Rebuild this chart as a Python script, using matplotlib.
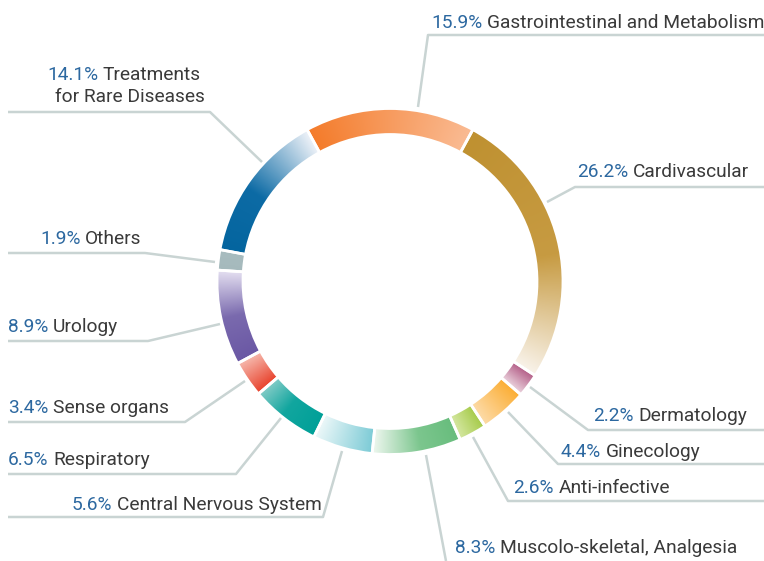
"""Therapeutic-area split of revenues as a gradient donut with leader labels."""
import numpy as np
import matplotlib
matplotlib.use("Agg")
import matplotlib.pyplot as plt
from matplotlib.colors import LinearSegmentedColormap

# --- data (clockwise from the top) ---
categories = [
    "Gastrointestinal and Metabolism", "Cardivascular", "Dermatology",
    "Ginecology", "Anti-infective", "Muscolo-skeletal, Analgesia",
    "Central Nervous System", "Respiratory", "Sense organs", "Urology",
    "Others", "Treatments\nfor Rare Diseases",
]
shares = [15.9, 26.2, 2.2, 4.4, 2.6, 8.3, 5.6, 6.5, 3.4, 8.9, 1.9, 14.1]

# --- style: gradient stops along each slice (clockwise start -> end) ---
seg_stops = [
    [(0, "#f47b2a"), (1, "#fabb93")],
    [(0, "#bf9131"), (0.55, "#c79b42"), (1, "#f9f3ea")],
    [(0, "#b45f88"), (1, "#ecd5df")],
    [(0, "#fbae35"), (1, "#fddcaa")],
    [(0, "#a6cb4a"), (1, "#d6e8a4")],
    [(0, "#68bd7d"), (0.45, "#7cc68e"), (1, "#eef7ef")],
    [(0, "#7ccbd6"), (1, "#edf8f9")],
    [(0, "#00a098"), (0.55, "#12a69f"), (1, "#80cbc6")],
    [(0, "#e8402a"), (1, "#f6b7ab")],
    [(0, "#6a57a4"), (0.5, "#7a6aae"), (1, "#e3def0")],
    [(0, "#a5b9bc"), (1, "#a8bcbf")],
    [(0, "#04659f"), (0.45, "#0d6ba5"), (1, "#eef2f8")],
]

W, H = 764, 561
CX, CY = 390, H - 281.5
R_OUT, RING = 173, 26
BLUE, GREY, LINE = "#2c68a0", "#3a3a3a", "#c9d4d3"
FS = 13.8

# leader polylines in pixel coords (y down): ring point -> elbow -> edge
leaders = [
    [(418, 107), (428, 35), (764, 35)],
    [(547, 202), (575, 187), (764, 187)],
    [(530, 387), (588, 430), (764, 430)],
    [(508, 412), (558, 464), (764, 464)],
    [(473, 437), (508, 501), (764, 501)],
    [(426, 455), (446, 561)],
    [(342, 451), (323, 517), (8, 517)],
    [(281, 418), (236, 474), (8, 474)],
    [(245, 381), (185, 422), (8, 422)],
    [(220, 324), (148, 341), (8, 341)],
    [(215, 262), (145, 253), (8, 253)],
    [(262, 162), (210, 112), (8, 112)],
]
# label anchor: x, baseline y (pixels), alignment
label_pos = [
    (431, 28, "left"), (577, 177, "left"), (593, 421, "left"),
    (561, 457, "left"), (513, 493, "left"), (455, 553, "left"),
    (72, 510, "left"), (8, 465, "left"), (8, 413, "left"),
    (8, 332, "left"), (40, 244, "left"), (201, 80, "right"),
]

plt.rcParams["font.family"] = ["Roboto", "DejaVu Sans"]

fig = plt.figure(figsize=(W / 100, H / 100), dpi=100)
ax = fig.add_axes([0, 0, 1, 1])

wedges, _ = ax.pie(
    shares, radius=R_OUT, center=(CX, CY),
    startangle=90 + shares[0] * 1.8, counterclock=False,
    colors=[s[0][1] for s in seg_stops],
    wedgeprops=dict(width=RING, edgecolor="white", linewidth=2),
)

# angular gradient inside every slice, clipped by the wedge itself
n = 700
gx = np.linspace(CX - R_OUT, CX + R_OUT, n)
gy = np.linspace(CY - R_OUT, CY + R_OUT, n)
X, Y = np.meshgrid(gx, gy)
ang = np.degrees(np.arctan2(Y - CY, X - CX))
for w, stops in zip(wedges, seg_stops):
    span = w.theta2 - w.theta1
    mid = (w.theta1 + w.theta2) / 2
    d = (ang - mid + 180) % 360 - 180
    t = np.clip(0.5 - d / span, 0, 1)
    cmap = LinearSegmentedColormap.from_list("seg", stops)
    im = ax.imshow(cmap(t), origin="lower", interpolation="bilinear",
                   extent=(gx[0], gx[-1], gy[0], gy[-1]), zorder=2)
    im.set_clip_path(w)
    w.set_facecolor("none")
    w.set_zorder(3)

for pts in leaders:
    xs = [p[0] for p in pts]
    ys = [H - p[1] for p in pts]
    ax.plot(xs, ys, color=LINE, lw=1.8, solid_capstyle="butt", zorder=1)

for cat, val, (x, y, ha) in zip(categories, shares, label_pos):
    lines = cat.split("\n")
    pct = f"{val:.1f}%"
    if ha == "left":
        t = ax.text(x, H - y, pct, color=BLUE, fontsize=FS, va="baseline")
        ax.annotate(lines[0], xy=(1, 0), xycoords=t, xytext=(3.5, 0),
                    textcoords="offset points", va="bottom", color=GREY,
                    fontsize=FS)
    else:
        t = ax.text(x, H - y, lines[0], color=GREY, fontsize=FS,
                    ha="right", va="baseline")
        ax.annotate(pct, xy=(0, 0), xycoords=t, xytext=(-3.5, 0),
                    textcoords="offset points", ha="right", va="bottom",
                    color=BLUE, fontsize=FS)
        for i, extra in enumerate(lines[1:], start=1):
            ax.text(x + 4, H - y - 22 * i, extra, color=GREY, fontsize=FS,
                    ha="right", va="baseline")

ax.set_xlim(0, W)
ax.set_ylim(0, H)
ax.set_aspect("equal")
ax.axis("off")

fig.savefig("out.png", dpi=100, facecolor="white")
